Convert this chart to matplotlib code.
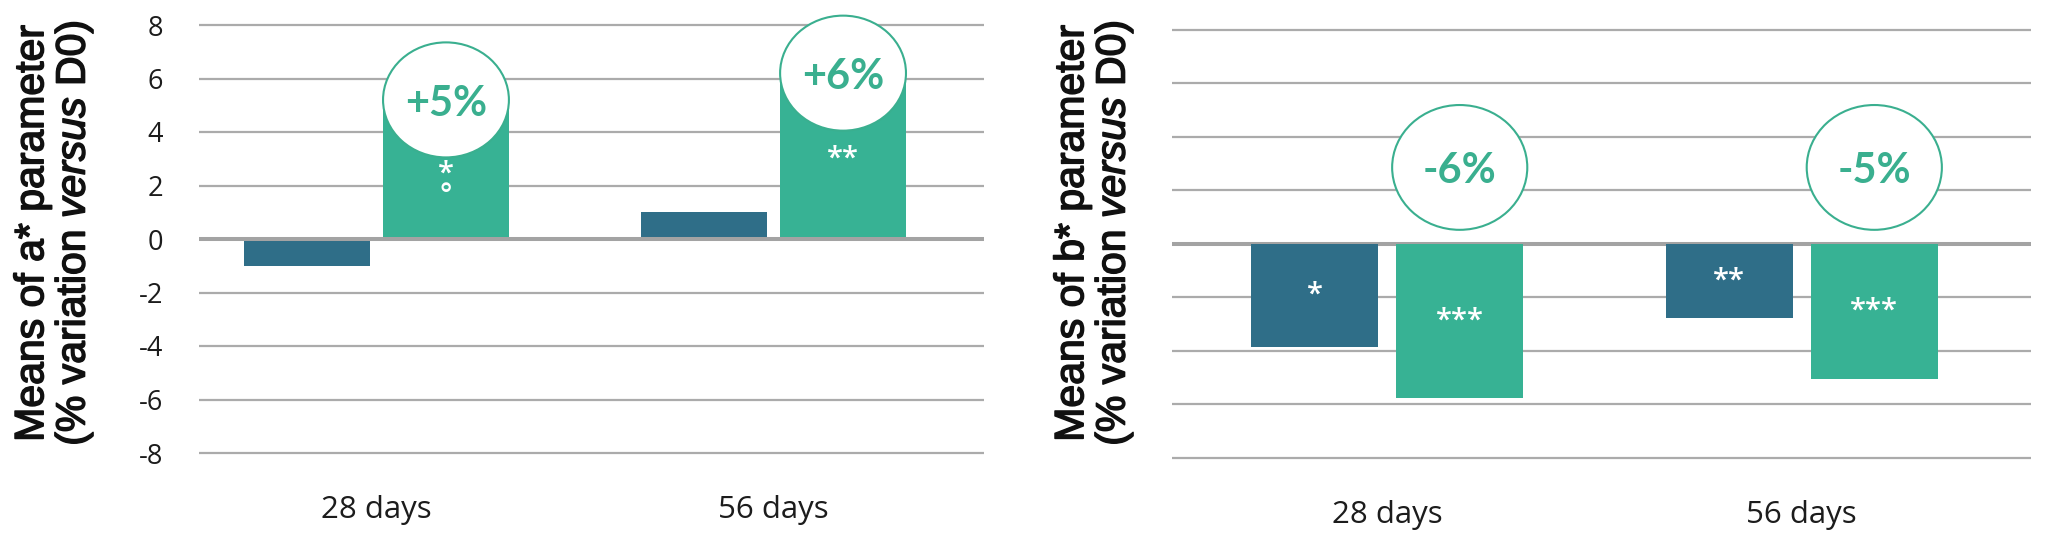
import matplotlib
matplotlib.use("Agg")
import matplotlib.pyplot as plt
import matplotlib.patheffects as pe
from matplotlib.patches import Ellipse
import numpy as np

# --- data ---
categories = ["28 days", "56 days"]

a_blue = [-1.0, 1.0]
a_green = [5.2, 6.2]
a_pct = ["+5%", "+6%"]
a_green_sig = ["*\n°", "**"]

b_blue = [-3.84, -2.77]
b_green = [-5.75, -5.04]
b_pct = ["-6%", "-5%"]
b_blue_sig = ["*", "**"]
b_green_sig = ["***", "***"]

y_ticks = [-8, -6, -4, -2, 0, 2, 4, 6, 8]

BLUE = "#2F6E88"
GREEN = "#37B294"
GREEN_TXT = "#3AAF8F"
GRID = "#ABABAB"
ZERO = "#A3A3A3"

plt.rcParams["mathtext.fontset"] = "custom"
plt.rcParams["mathtext.rm"] = "Liberation Sans"
plt.rcParams["mathtext.it"] = "Liberation Sans:italic"

W, H = 2048, 537
fig = plt.figure(figsize=(W / 100, H / 100), dpi=100)


def base_axes(rect, xlim):
    ax = fig.add_axes(rect)
    ax.set_xlim(*xlim)
    ax.set_ylim(-8, 8)
    for s in ax.spines.values():
        s.set_visible(False)
    ax.hlines([t for t in y_ticks if t != 0], xlim[0], xlim[1],
              color=GRID, lw=1.6, zorder=0, clip_on=False)
    ax.set_xticks(range(len(categories)))
    ax.set_xticklabels(categories, fontfamily="Open Sans", fontsize=22.5,
                       color="#1c1c1c")
    ax.tick_params(axis="x", length=0, pad=30)
    return ax


x = np.arange(len(categories))
off = 0.175

# ---------------- left: a* ----------------
axl = base_axes([199 / W, 84 / H, 785 / W, 428 / H], (-0.447, 1.530))
bw = 0.317
axl.bar(x - off, a_blue, bw, color=BLUE, zorder=2)
axl.bar(x + off, a_green, bw, color=GREEN, zorder=2)
axl.axhline(0, color=ZERO, lw=2.9, zorder=3)
axl.set_yticks(y_ticks)
axl.set_yticklabels([str(t) for t in y_ticks], fontfamily="Open Sans",
                    fontsize=19.5, color="#1c1c1c")
axl.tick_params(axis="y", length=0, pad=26)

for i in range(len(categories)):
    cx, cy = x[i] + off, a_green[i]
    axl.add_patch(Ellipse((cx, cy), 0.317, 4.3, facecolor="white",
                          edgecolor=GREEN_TXT, lw=1.5, zorder=4, clip_on=False))
    axl.text(cx, cy - 0.15, a_pct[i], ha="center", va="center", fontsize=30,
             fontfamily="Lato", fontweight="bold", color=GREEN_TXT, zorder=5)
    axl.text(cx, cy - 3.2, a_green_sig[i], ha="center", va="center",
             fontsize=21, fontfamily="Open Sans", fontweight="semibold",
             color="white", linespacing=0.7, zorder=5)

# ---------------- right: b* ----------------
axr = base_axes([1172 / W, 79 / H, 859 / W, 428.5 / H], (-0.519, 1.553))
bw = 0.306
axr.axhline(0, color=ZERO, lw=2.9, zorder=1)
axr.bar(x - off, b_blue, bw, color=BLUE, zorder=2)
axr.bar(x + off, b_green, bw, color=GREEN, zorder=2)
axr.set_yticks(y_ticks)
axr.set_yticklabels([])
axr.tick_params(axis="y", length=0)

for i in range(len(categories)):
    cx = x[i] + off
    axr.add_patch(Ellipse((cx, 2.85), 0.326, 4.66, facecolor="white",
                          edgecolor=GREEN_TXT, lw=1.5, zorder=4, clip_on=False))
    axr.text(cx, 2.7, b_pct[i], ha="center", va="center", fontsize=30,
             fontfamily="Lato", fontweight="bold", color=GREEN_TXT, zorder=5)
    axr.text(x[i] - off, b_blue[i] / 2, b_blue_sig[i], ha="center",
             va="center", fontsize=21, fontfamily="Open Sans",
             fontweight="semibold", color="white", zorder=5)
    axr.text(cx, b_green[i] / 2, b_green_sig[i], ha="center", va="center",
             fontsize=21, fontfamily="Open Sans", fontweight="semibold",
             color="white", zorder=5)

# y labels (regular face thickened a little to look like a medium weight)
ylab = "Means of {}* parameter\n(% variation $\\mathit{{versus}}$ D0)"
for lx, letter in [(54, "a"), (1094, "b")]:
    fig.text(lx / W, (H - 233) / H, ylab.format(letter), rotation=90,
             ha="center", va="center", multialignment="center",
             fontfamily="Liberation Sans", fontsize=29.5, color="#111111",
             linespacing=1.05,
             path_effects=[pe.withStroke(linewidth=1.1, foreground="#111111")])

fig.savefig("out.png", dpi=100)
